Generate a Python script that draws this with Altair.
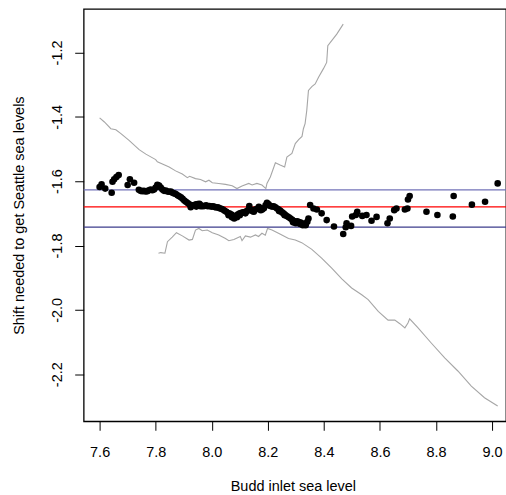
import altair as alt
import pandas as pd

# Scatter points (Budd inlet level, shift)
pt_x = [7.600, 7.607, 7.620, 7.643, 7.646, 7.652, 7.660, 7.668, 7.700, 7.708, 7.723,
        7.740, 7.746, 7.752, 7.758, 7.764, 7.770, 7.776, 7.782, 7.788, 7.794, 7.800, 7.806,
        7.812, 7.818, 7.824, 7.830, 7.836, 7.842, 7.848, 7.854, 7.860, 7.866, 7.872, 7.878,
        7.884, 7.890, 7.896, 7.902, 7.908, 7.914, 7.920, 7.926, 7.932, 7.938, 7.944, 7.950,
        7.956, 7.962, 7.968, 7.974, 7.980, 7.986, 7.992, 7.998, 8.004, 8.010, 8.016, 8.022,
        8.028, 8.034, 8.040, 8.046, 8.052, 8.058, 8.064, 8.070, 8.076, 8.082, 8.088, 8.094,
        8.100, 8.106, 8.112, 8.118, 8.124, 8.130, 8.134, 8.138, 8.144, 8.150, 8.156, 8.162,
        8.168, 8.174, 8.180, 8.186, 8.192, 8.197, 8.203, 8.209, 8.215, 8.221, 8.227, 8.233,
        8.239, 8.245, 8.251, 8.257, 8.263, 8.269, 8.275, 8.281, 8.287, 8.293, 8.299, 8.305,
        8.311, 8.317, 8.323, 8.329, 8.335, 8.341, 8.345,
        8.351, 8.363, 8.375, 8.392, 8.410, 8.436, 8.469, 8.478, 8.481, 8.497, 8.501, 8.514,
        8.519, 8.537, 8.552, 8.570, 8.588, 8.627, 8.635, 8.651, 8.659, 8.689, 8.698, 8.700,
        8.706, 8.766, 8.805, 8.860, 8.863, 8.928, 8.975, 9.020,
        7.925, 7.945, 7.960, 8.060, 8.072, 8.080, 8.090, 8.100, 8.120, 8.150, 8.175,
        8.200, 8.240, 8.260, 8.290, 8.300, 8.315, 8.325, 8.335]
pt_y = [-1.618, -1.610, -1.623, -1.636, -1.602, -1.594, -1.587, -1.581, -1.612, -1.594, -1.605,
        -1.627, -1.630, -1.631, -1.630, -1.632, -1.631, -1.628, -1.626, -1.628, -1.626, -1.620, -1.611,
        -1.614, -1.620, -1.626, -1.630, -1.629, -1.632, -1.633, -1.632, -1.636, -1.638, -1.640, -1.644,
        -1.647, -1.650, -1.655, -1.660, -1.664, -1.668, -1.672, -1.676, -1.675, -1.674, -1.672, -1.671,
        -1.670, -1.675, -1.678, -1.677, -1.675, -1.678, -1.677, -1.679, -1.678, -1.680, -1.682, -1.681,
        -1.684, -1.686, -1.688, -1.692, -1.695, -1.699, -1.701, -1.704, -1.708, -1.711, -1.707, -1.703,
        -1.700, -1.698, -1.697, -1.696, -1.694, -1.690, -1.677, -1.688, -1.693, -1.690, -1.688, -1.686,
        -1.680, -1.684, -1.688, -1.684, -1.675, -1.667, -1.672, -1.677, -1.679, -1.678, -1.681, -1.685,
        -1.688, -1.692, -1.697, -1.701, -1.705, -1.709, -1.712, -1.716, -1.720, -1.724, -1.726, -1.725,
        -1.727, -1.729, -1.732, -1.733, -1.732, -1.726, -1.716,
        -1.674, -1.685, -1.688, -1.700, -1.721, -1.741, -1.764, -1.743, -1.731, -1.739, -1.710, -1.705,
        -1.695, -1.708, -1.705, -1.723, -1.711, -1.731, -1.716, -1.690, -1.685, -1.688, -1.685, -1.657,
        -1.646, -1.695, -1.705, -1.710, -1.646, -1.673, -1.664, -1.607,
        -1.681, -1.679, -1.678, -1.706, -1.712, -1.716, -1.712, -1.706, -1.700, -1.695, -1.690,
        -1.674, -1.693, -1.706, -1.728, -1.731, -1.733, -1.737, -1.737]

# Upper grey band
up_x = [7.600, 7.617, 7.640, 7.658, 7.676, 7.705, 7.741, 7.765, 7.800, 7.806, 7.824, 7.848,
        7.871, 7.895, 7.913, 7.921, 7.942, 7.960, 7.978, 7.990, 8.002, 8.025, 8.049, 8.073,
        8.090, 8.108, 8.132, 8.144, 8.161, 8.179, 8.193, 8.197, 8.209, 8.227, 8.244, 8.260,
        8.268, 8.286, 8.298, 8.310, 8.322, 8.327, 8.333, 8.339, 8.345, 8.357, 8.369, 8.381,
        8.398, 8.410, 8.414, 8.428, 8.446, 8.469]
up_y = [-1.403, -1.416, -1.437, -1.440, -1.452, -1.473, -1.502, -1.516, -1.533, -1.540, -1.547, -1.556,
        -1.568, -1.578, -1.589, -1.585, -1.592, -1.595, -1.602, -1.597, -1.605, -1.607, -1.610, -1.614,
        -1.623, -1.615, -1.607, -1.612, -1.607, -1.612, -1.623, -1.607, -1.587, -1.543, -1.550, -1.556,
        -1.525, -1.514, -1.483, -1.471, -1.461, -1.437, -1.421, -1.380, -1.318, -1.306, -1.298, -1.277,
        -1.251, -1.231, -1.179, -1.163, -1.143, -1.112]

# Lower grey band
lo_x = [7.810, 7.818, 7.833, 7.842, 7.859, 7.874, 7.895, 7.919, 7.931, 7.942, 7.954, 7.966,
        7.984, 8.002, 8.025, 8.049, 8.061, 8.079, 8.102, 8.108, 8.120, 8.138, 8.156, 8.167,
        8.179, 8.191, 8.199, 8.215, 8.238, 8.274, 8.298, 8.321, 8.357, 8.392, 8.428, 8.464,
        8.499, 8.535, 8.558, 8.594, 8.629, 8.653, 8.671, 8.689, 8.700, 8.706, 8.736, 8.783,
        8.831, 8.878, 8.926, 8.973, 9.020]
lo_y = [-1.824, -1.822, -1.824, -1.788, -1.774, -1.760, -1.770, -1.783, -1.781, -1.752, -1.747, -1.754,
        -1.752, -1.760, -1.767, -1.778, -1.785, -1.781, -1.772, -1.785, -1.770, -1.774, -1.767, -1.772,
        -1.762, -1.768, -1.747, -1.752, -1.762, -1.778, -1.783, -1.791, -1.812, -1.839, -1.870, -1.904,
        -1.932, -1.953, -1.968, -2.005, -2.032, -2.032, -2.043, -2.056, -2.041, -2.028, -2.056, -2.103,
        -2.149, -2.190, -2.237, -2.273, -2.299]

# Horizontal reference lines
h_vals = [-1.627, -1.680, -1.743]
h_cols = ["#7373b8", "#ff0000", "#3c3c8c"]

x_ticks = [7.6, 7.8, 8.0, 8.2, 8.4, 8.6, 8.8, 9.0]
y_ticks = [-1.2, -1.4, -1.6, -1.8, -2.0, -2.2]

FONT = "Liberation Sans"
XDOM = [7.5431, 9.0497]
YDOM = [-2.3464, -1.0647]

pts = pd.DataFrame({"x": pt_x, "y": pt_y})
band = pd.concat([
    pd.DataFrame({"x": up_x, "y": up_y, "g": "upper"}),
    pd.DataFrame({"x": lo_x, "y": lo_y, "g": "lower"}),
])
hl = pd.DataFrame({"y": h_vals, "c": h_cols})

xs = alt.Scale(domain=XDOM, nice=False, zero=False)
ys = alt.Scale(domain=YDOM, nice=False, zero=False)

xaxis = alt.Axis(values=x_ticks, format=".1f", grid=False, domain=False,
                 tickSize=9, tickColor="black", tickWidth=1,
                 labelFont=FONT, labelFontSize=14.5, labelColor="black",
                 labelPadding=26, labelBaseline="alphabetic", labelAlign="center",
                 labelExpr="replace(datum.label, '\u2212', '-')",
                 title="Budd inlet sea level", titleFont=FONT, titleFontSize=14.5,
                 titleFontWeight="normal", titleColor="black",
                 titleX=210, titleY=69, titleBaseline="alphabetic", titleAlign="center")
yaxis = alt.Axis(values=y_ticks, format=".1f", grid=False, domain=False,
                 tickSize=9, tickColor="black", tickWidth=1,
                 labelFont=FONT, labelFontSize=14.5, labelColor="black",
                 labelAngle=270, labelAlign="center", labelBaseline="alphabetic",
                 labelPadding=13,
                 labelExpr="replace(datum.label, '\u2212', '-')",
                 title="Shift needed to get Seattle sea levels", titleFont=FONT,
                 titleFontSize=14.5, titleFontWeight="normal", titleColor="black",
                 titleAngle=270, titleX=-60, titleY=207, titleAlign="center",
                 titleBaseline="alphabetic")

lines = alt.Chart(band).mark_line(color="#a6a6a6", strokeWidth=1.1).encode(
    x=alt.X("x:Q", scale=xs, axis=xaxis),
    y=alt.Y("y:Q", scale=ys, axis=yaxis),
    detail="g:N",
)
rules = alt.Chart(hl).mark_rule(strokeWidth=1.3).encode(
    y=alt.Y("y:Q", scale=ys),
    color=alt.Color("c:N", scale=None),
)
dots = alt.Chart(pts).mark_circle(size=44, color="black", opacity=1).encode(
    x=alt.X("x:Q", scale=xs),
    y=alt.Y("y:Q", scale=ys),
)

chart = alt.layer(lines, rules, dots).properties(
    width=424, height=414,
    padding={"left": 84, "top": 8, "right": 0, "bottom": 75},
    autosize=alt.AutoSizeParams(type="none"),
    background="white",
).configure_view(stroke="black", strokeWidth=1.3)

chart.save("out.html", embed_options={"renderer": "svg", "actions": False})
